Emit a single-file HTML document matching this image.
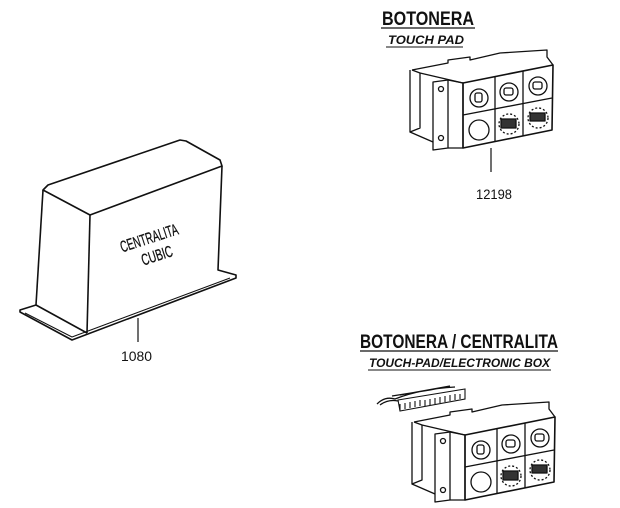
<!DOCTYPE html>
<html><head><meta charset="utf-8"><style>
html,body{margin:0;padding:0;background:#fff;}
svg{display:block;}
text{font-family:"Liberation Sans",sans-serif;fill:#111;}
</style></head><body>
<svg width="620" height="508" viewBox="0 0 620 508" xmlns="http://www.w3.org/2000/svg">
<defs>
<g id="pad" fill="none" stroke="#111" stroke-width="1.3" stroke-linejoin="round">
  <path d="M412,70 L448,63 L448,60 L470,57 L470,60 L500,53 L547,50 L547,57 L553,65" />
  <path d="M412,70 L420,73 L420,128 L410,132 L410,70"/>
  <path d="M420,73 L463,83"/>
  <path d="M410,132 L433,142"/>
  <path d="M433,82 L448,80 L448,148 L433,150 Z"/>
  <path d="M448,80 L463,83 L463,148 L448,148"/>
  <circle cx="441" cy="89" r="2.5"/>
  <circle cx="441" cy="138" r="2.5"/>
  <path d="M463,83 L553,65 L552,130 L463,148 Z" stroke-width="1.6"/>
  <path d="M463,115 L552,98"/>
  <path d="M495,77 L495,142"/>
  <path d="M523,71 L523,136"/>
  <circle cx="479" cy="98" r="9"/><rect x="475" y="93" width="7" height="9" rx="2"/>
  <circle cx="509" cy="92" r="9"/><rect x="504" y="88" width="9" height="7" rx="2"/>
  <circle cx="538" cy="86" r="9"/><rect x="533" y="82" width="9" height="7" rx="2"/>
  <circle cx="479" cy="130" r="10"/>
  <circle cx="509" cy="124" r="10" stroke-dasharray="2 2"/><rect x="501" y="119" width="15" height="9" fill="#333"/>
  <circle cx="538" cy="118" r="10" stroke-dasharray="2 2"/><rect x="530" y="113" width="15" height="8" fill="#333"/>
</g>
</defs>

<text x="382" y="25" font-size="19" font-weight="bold" textLength="92" lengthAdjust="spacingAndGlyphs">BOTONERA</text>
<line x1="381" y1="28" x2="475" y2="28" stroke="#111" stroke-width="1.2"/>
<text x="388" y="44" font-size="12" font-weight="bold" font-style="italic" textLength="76" lengthAdjust="spacingAndGlyphs">TOUCH PAD</text>
<line x1="386" y1="47" x2="463" y2="47" stroke="#111" stroke-width="1"/>

<use href="#pad"/>
<line x1="491" y1="148" x2="491" y2="172" stroke="#111" stroke-width="1.2"/>
<text x="476" y="199" font-size="14" textLength="36" lengthAdjust="spacingAndGlyphs">12198</text>

<g fill="none" stroke="#111" stroke-width="1.6" stroke-linejoin="round">
  <path d="M43,190 L48,185 L180,140 L186,141 L220,160 L222,166 L90,215 L43,190 Z" fill="#fff"/>
  <path d="M90,215 L87,333"/>
  <path d="M43,190 L36,305"/>
  <path d="M222,166 L218,270 L236,275 L236,278 L72,340 L20,312 L20,310 L36,305 L87,333"/>
  <path d="M25,313 L72,337 L230,278" stroke-width="1"/>
</g>
<g transform="translate(152,247) rotate(-18)">
<text x="0" y="-4" font-size="16" text-anchor="middle" textLength="60" lengthAdjust="spacingAndGlyphs" stroke="#111" stroke-width="0.3">CENTRALITA</text>
<text x="2" y="15" font-size="16" text-anchor="middle" textLength="32" lengthAdjust="spacingAndGlyphs" stroke="#111" stroke-width="0.3">CUBIC</text>
</g>
<line x1="138" y1="318" x2="138" y2="342" stroke="#111" stroke-width="1.2"/>
<text x="121" y="361" font-size="14" textLength="31" lengthAdjust="spacingAndGlyphs">1080</text>

<text x="360" y="348" font-size="19" font-weight="bold" textLength="198" lengthAdjust="spacingAndGlyphs">BOTONERA / CENTRALITA</text>
<line x1="360" y1="351" x2="558" y2="351" stroke="#111" stroke-width="1.2"/>
<text x="369" y="367" font-size="12" font-weight="bold" font-style="italic" textLength="181" lengthAdjust="spacingAndGlyphs">TOUCH-PAD/ELECTRONIC BOX</text>
<line x1="368" y1="370" x2="551" y2="370" stroke="#111" stroke-width="1"/>

<g fill="none" stroke="#111" stroke-width="1.1">
  <path d="M398,400 L465,389 L465,399 L400,411 Z"/>
  <path d="M400,404 L400,410 M405,403 L405,409 M410,402 L410,408 M415,401 L415,407 M420,400 L420,406 M425,400 L425,406 M430,399 L430,405 M435,398 L435,404 M440,397 L440,403 M445,396 L445,402 M450,395 L450,401 M455,394 L455,400 M460,394 L460,399"/>
  <path d="M377,404 Q385,396 395,399 Q420,389 455,387 M380,405 Q388,399 398,401 M392,396 L430,390 L440,388 M400,395 L450,386" stroke-width="1.3"/>
</g>
<use href="#pad" transform="translate(2,352)"/>
</svg>
</body></html>
